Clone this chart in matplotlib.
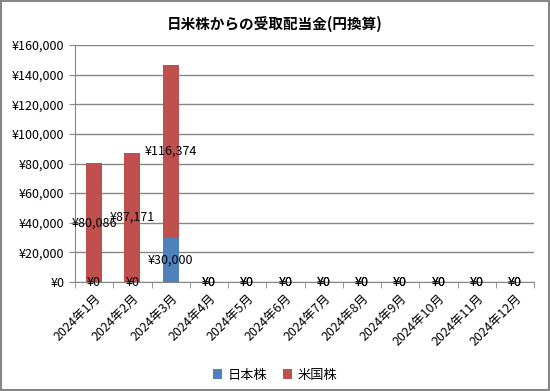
import matplotlib.pyplot as plt
import numpy as np
from matplotlib.ticker import FuncFormatter

plt.rcParams['font.family'] = ['Noto Sans CJK JP', 'DejaVu Sans']

months = [f"2024年{m}月" for m in range(1, 13)]
jp = [0, 0, 30000, 0, 0, 0, 0, 0, 0, 0, 0, 0]
us = [80086, 87171, 116374, 0, 0, 0, 0, 0, 0, 0, 0, 0]

c_jp = "#4F81BD"
c_us = "#C0504D"
grid_c = "#868686"

fig = plt.figure(figsize=(5.5, 3.91), dpi=100)
ax = fig.add_axes([75/550, 1 - 282/391, (534-75)/550, (282-45)/391])

x = np.arange(len(months))
w = 0.42
ax.bar(x, jp, w, color=c_jp, label="日本株", zorder=3)
ax.bar(x, us, w, bottom=jp, color=c_us, label="米国株", zorder=3)

# data labels in the middle of each segment
for i in range(len(months)):
    ax.text(x[i], jp[i] / 2, f"¥{jp[i]:,}", ha="center", va="center", fontsize=9, zorder=5)
    ax.text(x[i], jp[i] + us[i] / 2, f"¥{us[i]:,}", ha="center", va="center", fontsize=9, zorder=5)

ax.set_ylim(0, 160000)
ax.set_yticks(np.arange(0, 160001, 20000))
ax.yaxis.set_major_formatter(FuncFormatter(lambda v, p: f"¥{int(v):,}"))
ax.set_xlim(-0.5, len(months) - 0.5)
ax.set_xticks(x)
ax.set_xticklabels(months, rotation=45, ha="right", rotation_mode="anchor", fontsize=9)
ax.set_xticks(np.arange(-0.5, len(months), 1), minor=True)
ax.tick_params(axis="x", which="major", length=0, pad=7)
ax.tick_params(axis="x", which="minor", length=4, color=grid_c, direction="out")
ax.tick_params(axis="y", length=4, color=grid_c, labelsize=9)
ax.grid(axis="y", color=grid_c, linewidth=1, zorder=0)
for s in ["top", "right"]:
    ax.spines[s].set_visible(False)
for s in ["left", "bottom"]:
    ax.spines[s].set_color(grid_c)

fig.text(0.5, 1 - 24/391, "日米株からの受取配当金(円換算)", ha="center", va="center",
         fontsize=10.5, fontweight="bold")
fig.legend(loc="center", bbox_to_anchor=(0.5, 1 - 375/391), ncol=2, frameon=False,
           fontsize=9.5, handlelength=0.7, handleheight=0.7, columnspacing=1.2, handletextpad=0.4)

fig.patches.append(plt.Rectangle((0.002, 0.003), 0.996, 0.994, transform=fig.transFigure,
                                 fill=False, edgecolor=grid_c, linewidth=1.5))

fig.savefig("out.png", dpi=100)
